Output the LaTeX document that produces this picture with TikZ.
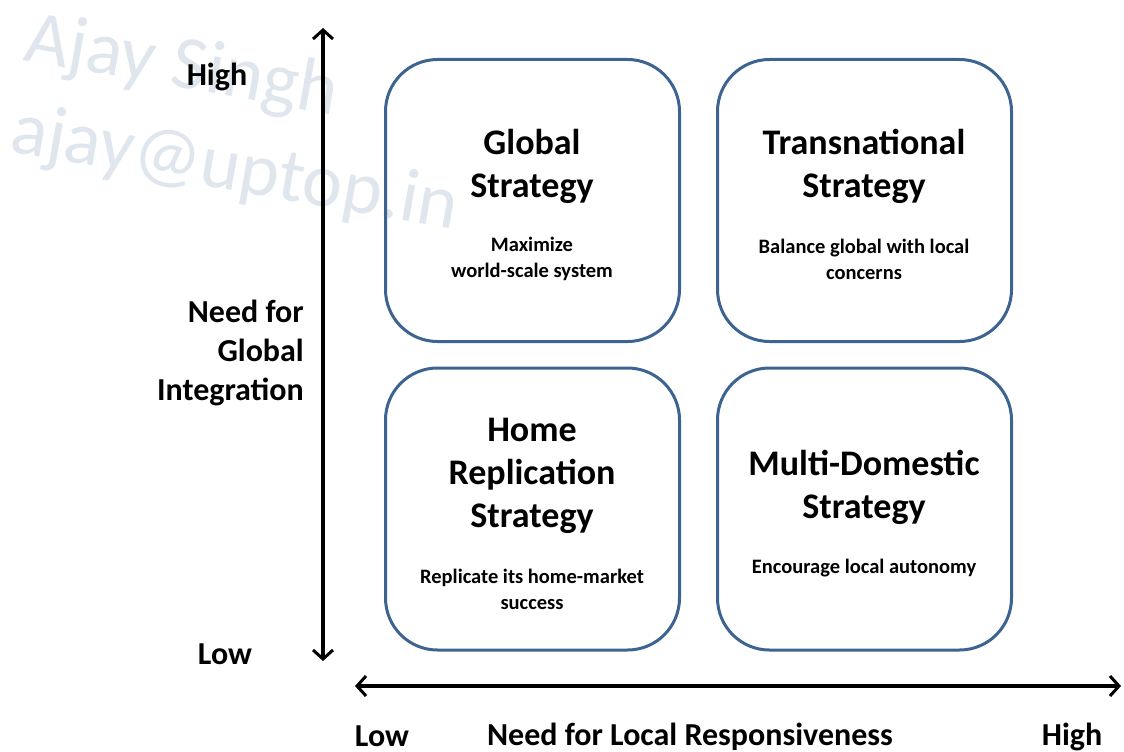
\documentclass[tikz,border=0pt]{standalone}
\usepackage{fontspec}
\setmainfont{Carlito}
\usetikzlibrary{arrows.meta}
\definecolor{boxblue}{HTML}{3D6391}
\definecolor{wmark}{HTML}{E0E6EE}
\tikzset{
  quad/.style={draw=boxblue, line width=3pt, rounded corners=52pt, minimum width=294pt, minimum height=282pt, inner sep=0pt},
  title/.style={font=\bfseries\fontsize{36}{43}\selectfont, align=center, inner sep=0pt},
  sub/.style={font=\bfseries\fontsize{20.5}{26}\selectfont, align=center, inner sep=0pt},
  axislabel/.style={font=\bfseries\fontsize{32}{39}\selectfont, inner sep=0pt},
  axis/.style={line width=3.2pt, {Straight Barb[length=9pt,width=20pt,line width=3pt]}-{Straight Barb[length=9pt,width=20pt,line width=3pt]}},
  watermark/.style={font=\fontsize{76}{80}\selectfont, text=wmark, rotate=-10, inner sep=0pt, anchor=base west}
}
\begin{document}
\begin{tikzpicture}[x=1pt,y=-1pt]
\useasboundingbox (0,0) rectangle (1124,752);
% watermark
\node[watermark] (wm1) at (22,60) {Ajay Singh};
\node[watermark] (wm2) at (8,151) {ajay@uptop.in};
% axes
\coordinate (vtop) at (323,28);
\coordinate (vbot) at (323,661);
\coordinate (hleft) at (355,686);
\coordinate (hright) at (1121,686);
\draw[axis] (vbot) -- (vtop);
\draw[axis] (hleft) -- (hright);
% quadrants
\node[quad] (global) at (532.5,200.5) {};
\node[quad] (trans) at (864.5,200.5) {};
\node[quad] (home) at (532.5,509) {};
\node[quad] (multi) at (864.5,509) {};
% quadrant texts
\node[title] (globalt) at (532,166) {Global\\Strategy};
\node[sub] (globals) at (532,259) {Maximize\\world-scale system};
\node[title] (transt) at (864,166) {Transnational\\Strategy};
\node[sub] (transs) at (864,259) {Balance global with local\\concerns};
\node[title] (homet) at (532,476) {Home\\Replication\\Strategy};
\node[sub] (homes) at (532,589) {Replicate its home-market\\success};
\node[title] (multit) at (864,487) {Multi-Domestic\\Strategy};
\node[sub] (multis) at (864,568) {Encourage local autonomy};
% axis labels
\node[axislabel] (vhigh) at (217,77) {High};
\node[axislabel] (vlow) at (225,654) {Low};
\node[axislabel, align=right, anchor=east] (vname) at (304,353) {Need for\\Global\\Integration};
\node[axislabel] (hlow) at (382,736) {Low};
\node[axislabel] (hname) at (690,737) {Need for Local Responsiveness};
\node[axislabel] (hhigh) at (1072,737) {High};
\end{tikzpicture}
\end{document}
